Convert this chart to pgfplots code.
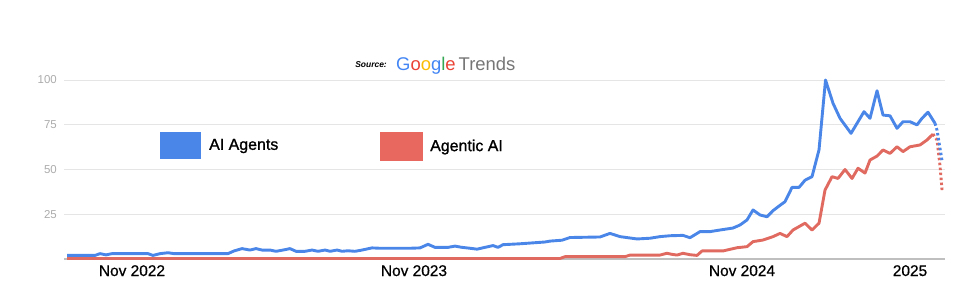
\documentclass[border=0pt]{standalone}
\usepackage{fontspec}
\setmainfont{Liberation Sans}
\newfontfamily\medfont[FakeBold=1.2]{Liberation Sans}
\newfontfamily\tickfont[FakeBold=0.6]{Liberation Sans}
\usepackage{pgfplots}
\pgfplotsset{compat=1.18}
\definecolor{gblue}{HTML}{4A86E8}
\definecolor{gred}{HTML}{E06A60}
\definecolor{legred}{HTML}{E8675F}
\definecolor{GB}{HTML}{4285F4}
\definecolor{GR}{HTML}{EA4335}
\definecolor{GY}{HTML}{FBBC05}
\definecolor{GG}{HTML}{34A853}
\definecolor{GT}{HTML}{767676}
\begin{document}
\begin{tikzpicture}[x=1bp,y=1bp]
\useasboundingbox (0,0) rectangle (964,300);
\begin{axis}[
  at={(64bp,41bp)}, anchor=south west,
  scale only axis, width=881bp, height=179bp,
  xmin=64, xmax=945, ymin=0, ymax=100,
  clip=false,
  axis x line*=bottom, axis y line*=left,
  y axis line style={draw=none},
  x axis line style={draw=black!25, line width=1.2bp, -},
  major tick length=0pt,
  ymajorgrids, grid style={draw=black!10, line width=0.8bp},
  ytick={25,50,75,100},
  xtick={132,414,742,910},
  xticklabels={Nov 2022, Nov 2023, Nov 2024, 2025},
  xticklabel style={font=\tickfont\fontsize{15.5}{16}\selectfont, text=black, anchor=base, yshift=-17bp},
  yticklabel style={font=\fontsize{11.5}{12}\selectfont, text=black!33, anchor=east, inner sep=0pt, xshift=-7bp},
  /pgf/number format/assume math mode=true,
]
% Agentic AI (red), solid
\addplot[gred, line width=2.9bp, line join=round] coordinates {
(67,0.3) (560,0.3) (565,1.3) (625,1.3) (630,2.2) (660,2.2) (667,3.2) (672,2.6) (677,2.2) (683,3.2) (690,2.4) (697,2.0) (702,4.5) (723,4.5) (737,6.3) (747,6.9) (753,9.7) (763,10.6) (773,12.5) (780,14.3) (787,12.5) (793,16.2) (805,20) (812,16.2) (819,20) (825,38.5) (832,46) (838,45) (845,50) (852,45) (858,50.7) (865,48) (870,55.3) (877,57.5) (883,60.9) (890,59) (897,62.7) (903,60) (910,62.7) (920,63.7) (927,66.5) (933,69.8)
};
\addplot[gred, line width=2.9bp, dash pattern=on 2.5bp off 2.5bp] coordinates {
(933,69.8) (937,66.5) (940,52) (942,38.5)
};
% AI Agents (blue), solid
\addplot[gblue, line width=2.9bp, line join=round] coordinates {
(67,2) (95,2) (100,3) (106,2.3) (112,3) (148,3) (153,2) (160,3) (168,3.5) (174,3) (228,3) (234,4.5) (242,5.8) (250,5) (256,5.8) (262,5) (270,5) (276,4.3) (283,5) (290,5.8) (296,4.3) (305,4.3) (312,5) (318,4.3) (325,5) (330,4.3) (337,5) (342,4.3) (348,4.6) (355,4.3) (362,5) (372,6.2) (380,6) (410,6) (420,6.2) (428,8.2) (435,6.5) (448,6.5) (455,7.2) (462,6.5) (470,6) (477,5.5) (485,6.5) (493,7.5) (498,6.5) (503,8) (520,8.5) (545,9.5) (550,10) (562,10.5) (570,12) (600,12.3) (610,14.3) (620,12.5) (637,11.2) (650,11.6) (660,12.5) (670,13) (683,13.2) (690,11.9) (700,15.3) (710,15.3) (720,16.2) (733,17.3) (740,19) (747,21.8) (753,27.4) (760,24.6) (767,23.6) (773,27) (780,30) (785,32) (792,40) (799,40) (805,44) (812,46) (819,61) (825.5,100) (833,87) (840,78.6) (851,70.2) (864,82.3) (870,78.6) (877,94) (883,80.4) (890,80) (897,73) (903,76.7) (910,76.7) (917,74.9) (922,78.6) (928,82) (935,75.8)
};
\addplot[gblue, line width=2.9bp, dash pattern=on 2.5bp off 2.5bp] coordinates {
(935,75.8) (937,72) (942,55)
};
\end{axis}
% legend
\fill[gblue] (160,141) rectangle (201,168);
\node[anchor=west, inner sep=0pt, font=\medfont\fontsize{16}{18}\selectfont] at (209,154) {AI Agents};
\fill[legred] (380,139) rectangle (423,168);
\node[anchor=west, inner sep=0pt, font=\medfont\fontsize{16}{18}\selectfont] at (430,153) {Agentic AI};
% source
\node[anchor=east, inner sep=0pt, font=\fontsize{8.5}{10}\selectfont\bfseries\itshape] at (387,235) {Source:};
\node[anchor=west, inner sep=0pt, font=\fontsize{18.5}{20}\selectfont] at (396,234) {\textcolor{GB}{G}\textcolor{GR}{o}\textcolor{GY}{o}\textcolor{GB}{g}\textcolor{GG}{l}\textcolor{GR}{e}\,\textcolor{GT}{Trends}};
\end{tikzpicture}
\end{document}
